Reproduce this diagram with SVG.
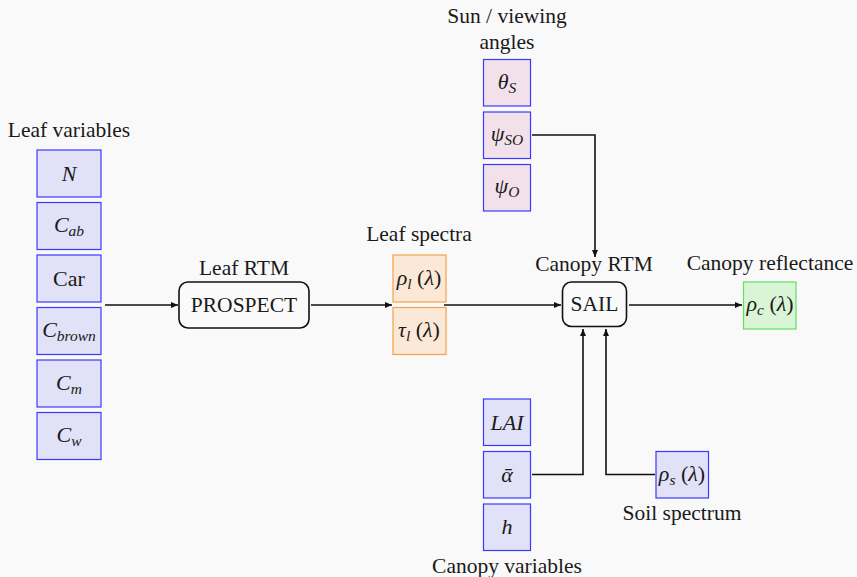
<svg xmlns="http://www.w3.org/2000/svg" width="857" height="577" viewBox="0 0 857 577">
<defs>
<marker id="ah" markerWidth="8" markerHeight="8" refX="7" refY="4" orient="auto" markerUnits="userSpaceOnUse">
<path d="M0,1 L7,4 L0,7 Z" fill="#111"/>
</marker>
</defs>
<rect width="857" height="577" fill="#f9f9f9"/>
<g fill="#1a1a1a" text-anchor="middle" font-size="21.5">
<text font-family="'Liberation Serif'" x="69" y="137">Leaf variables</text>
<text font-family="'Liberation Serif'" x="244" y="275">Leaf RTM</text>
<text font-family="'Liberation Serif'" x="419" y="241">Leaf spectra</text>
<text font-family="'Liberation Serif'" x="507" y="23">Sun / viewing</text>
<text font-family="'Liberation Serif'" x="507" y="49">angles</text>
<text font-family="'Liberation Serif'" x="594" y="271">Canopy RTM</text>
<text font-family="'Liberation Serif'" x="770" y="270">Canopy reflectance</text>
<text font-family="'Liberation Serif'" x="507" y="573">Canopy variables</text>
<text font-family="'Liberation Serif'" x="682" y="520">Soil spectrum</text>
</g>

<g fill="#e1e1f7" stroke="#3a3aff" stroke-width="1.2">
<rect id="box-N" x="37" y="150" width="64" height="47"/>
<rect id="box-Cab" x="37" y="202.5" width="64" height="47"/>
<rect id="box-Car" x="37" y="255" width="64" height="47"/>
<rect id="box-Cbrown" x="37" y="307.5" width="64" height="47"/>
<rect id="box-Cm" x="37" y="360" width="64" height="47"/>
<rect id="box-Cw" x="37" y="412.5" width="64" height="47"/>
<rect id="box-LAI" x="483.5" y="399" width="47" height="46.5"/>
<rect id="box-alpha" x="483.5" y="451.5" width="47" height="46.5"/>
<rect id="box-h" x="483.5" y="504" width="47" height="46.5"/>
<rect id="box-rho-s" x="656" y="451.5" width="52.5" height="46.5"/>
</g>
<g fill="#f2e0eb" stroke="#3a3aff" stroke-width="1.2">
<rect id="box-theta-S" x="483.5" y="59.5" width="47" height="46.5"/>
<rect id="box-psi-SO" x="483.5" y="112" width="47" height="46.5"/>
<rect id="box-psi-O" x="483.5" y="164.5" width="47" height="46.5"/>
</g>
<g fill="#fbe8d6" stroke="#f5a04a" stroke-width="1.2">
<rect id="box-rho-l" x="393" y="255" width="53" height="47"/>
<rect id="box-tau-l" x="393" y="307.5" width="53" height="47"/>
</g>
<rect id="box-rho-c" x="743.5" y="282" width="52.5" height="47" fill="#d9f5d6" stroke="#5fe05f" stroke-width="1.2"/>
<g fill="#fafafa" stroke="#111" stroke-width="1.6">
<rect id="box-prospect" x="179" y="282" width="130" height="46" rx="9"/>
<rect id="box-sail" x="562.5" y="282" width="64" height="44.5" rx="9"/>
</g>

<g fill="#1a1a1a" text-anchor="middle" font-size="22">
<g id="leaf-N"><text font-family="'Liberation Serif'" font-style="italic" x="69" y="181">N</text></g>
<g id="leaf-Cab"><text font-family="'Liberation Serif'" x="69" y="232"><tspan font-style="italic">C</tspan><tspan font-size="15.5" font-style="italic" dy="4">ab</tspan></text></g>
<g id="leaf-Car"><text font-family="'Liberation Serif'" x="69" y="286">Car</text></g>
<g id="leaf-Cbrown"><text font-family="'Liberation Serif'" x="69" y="337"><tspan font-style="italic">C</tspan><tspan font-size="15.5" font-style="italic" dy="4">brown</tspan></text></g>
<g id="leaf-Cm"><text font-family="'Liberation Serif'" x="69" y="390"><tspan font-style="italic">C</tspan><tspan font-size="15.5" font-style="italic" dy="4">m</tspan></text></g>
<g id="leaf-Cw"><text font-family="'Liberation Serif'" x="69" y="442"><tspan font-style="italic">C</tspan><tspan font-size="15.5" font-style="italic" dy="4">w</tspan></text></g>
<g id="prospect"><text font-family="'Liberation Serif'" font-size="21.5" x="244" y="312">PROSPECT</text></g>
<g id="rho-l"><text font-family="'Liberation Serif'" x="419" y="285"><tspan font-style="italic">ρ</tspan><tspan font-size="15.5" font-style="italic" dy="4">l</tspan><tspan dy="-4"> (</tspan><tspan font-style="italic">λ</tspan>)</text></g>
<g id="tau-l"><text font-family="'Liberation Serif'" x="419" y="337"><tspan font-style="italic">τ</tspan><tspan font-size="15.5" font-style="italic" dy="4">l</tspan><tspan dy="-4"> (</tspan><tspan font-style="italic">λ</tspan>)</text></g>
<g id="theta-S"><text font-family="'Liberation Serif'" x="507" y="89"><tspan font-style="italic">θ</tspan><tspan font-size="15.5" font-style="italic" dy="4">S</tspan></text></g>
<g id="psi-SO"><text font-family="'Liberation Serif'" x="507" y="141"><tspan font-style="italic">ψ</tspan><tspan font-size="15.5" font-style="italic" dy="4">SO</tspan></text></g>
<g id="psi-O"><text font-family="'Liberation Serif'" x="507" y="193"><tspan font-style="italic">ψ</tspan><tspan font-size="15.5" font-style="italic" dy="4">O</tspan></text></g>
<g id="sail"><text font-family="'Liberation Serif'" font-size="21.5" x="594.5" y="311">SAIL</text></g>
<g id="rho-c"><text font-family="'Liberation Serif'" x="770" y="311"><tspan font-style="italic">ρ</tspan><tspan font-size="15.5" font-style="italic" dy="4">c</tspan><tspan dy="-4"> (</tspan><tspan font-style="italic">λ</tspan>)</text></g>
<g id="LAI"><text font-family="'Liberation Serif'" font-style="italic" x="507" y="430">LAI</text></g>
<g id="alpha"><text font-family="'Liberation Serif'" font-style="italic" x="507" y="482">ᾱ</text></g>
<g id="h"><text font-family="'Liberation Serif'" font-style="italic" x="507" y="534">h</text></g>
<g id="rho-s"><text font-family="'Liberation Serif'" x="682" y="481"><tspan font-style="italic">ρ</tspan><tspan font-size="15.5" font-style="italic" dy="4">s</tspan><tspan dy="-4"> (</tspan><tspan font-style="italic">λ</tspan>)</text></g>
</g>

<g id="connectors" fill="none" stroke="#111" stroke-width="1.6">
<path d="M105,305 H178" marker-end="url(#ah)"/>
<path d="M311,305 H392" marker-end="url(#ah)"/>
<path d="M444,305 H561" marker-end="url(#ah)"/>
<path d="M532,135 H595 V257" marker-end="url(#ah)"/>
<path d="M629,305 H742" marker-end="url(#ah)"/>
<path d="M532,474.5 H583 V329" marker-end="url(#ah)"/>
<path d="M655,474.5 H606 V329" marker-end="url(#ah)"/>
</g>
</svg>
